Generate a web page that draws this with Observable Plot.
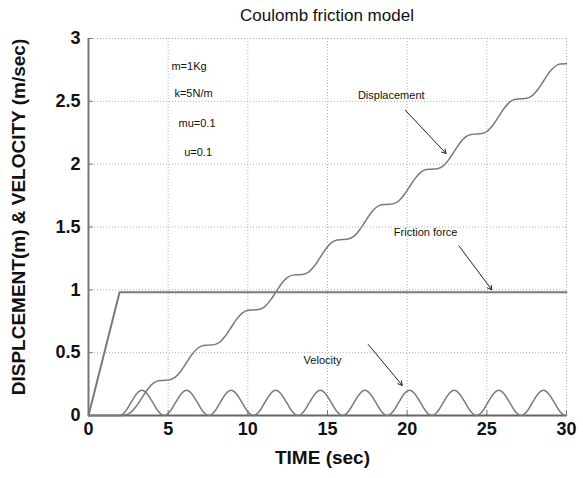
<!DOCTYPE html>
<html>
<head>
<meta charset="utf-8">
<script src="https://cdn.jsdelivr.net/npm/d3@7"></script>
<script src="https://cdn.jsdelivr.net/npm/@observablehq/plot@0.6"></script>
<style>
  body { margin: 0; background: #fff; overflow: hidden; font-family: "Liberation Sans", Arial, sans-serif; }
  #title { width: 583px; height: 30px; line-height: 32px; box-sizing: border-box; padding-left: 71px; text-align: center; font-size: 17px; color: #111; }
</style>
</head>
<body>
<div id="title">Coulomb friction model</div>
<div id="chart"></div>
<script>
// ---- data ----
const xTicks = [0, 5, 10, 15, 20, 25, 30];
const yTicks = [0, 0.5, 1, 1.5, 2, 2.5, 3];

const time = [0,
  1.95, 2.30, 2.65, 3.00, 3.35, 3.70, 4.05, 4.40,
  4.75, 5.10, 5.45, 5.80, 6.15, 6.50, 6.85, 7.20,
  7.55, 7.90, 8.25, 8.60, 8.95, 9.30, 9.65, 10.00,
  10.35, 10.70, 11.05, 11.40, 11.75, 12.10, 12.45, 12.80,
  13.15, 13.50, 13.85, 14.20, 14.55, 14.90, 15.25, 15.60,
  15.95, 16.30, 16.65, 17.00, 17.35, 17.70, 18.05, 18.40,
  18.75, 19.10, 19.45, 19.80, 20.15, 20.50, 20.85, 21.20,
  21.55, 21.90, 22.25, 22.60, 22.95, 23.30, 23.65, 24.00,
  24.35, 24.70, 25.05, 25.40, 25.75, 26.10, 26.45, 26.80,
  27.15, 27.50, 27.85, 28.20, 28.55, 28.90, 29.25, 29.60,
  29.95, 30];

const velocity = [0,
  0, 0.03, 0.10, 0.17, 0.20, 0.17, 0.10, 0.03,
  0, 0.03, 0.10, 0.17, 0.20, 0.17, 0.10, 0.03,
  0, 0.03, 0.10, 0.17, 0.20, 0.17, 0.10, 0.03,
  0, 0.03, 0.10, 0.17, 0.20, 0.17, 0.10, 0.03,
  0, 0.03, 0.10, 0.17, 0.20, 0.17, 0.10, 0.03,
  0, 0.03, 0.10, 0.17, 0.20, 0.17, 0.10, 0.03,
  0, 0.03, 0.10, 0.17, 0.20, 0.17, 0.10, 0.03,
  0, 0.03, 0.10, 0.17, 0.20, 0.17, 0.10, 0.03,
  0, 0.03, 0.10, 0.17, 0.20, 0.17, 0.10, 0.03,
  0, 0.03, 0.10, 0.17, 0.20, 0.17, 0.10, 0.03,
  0, 0];

const displacement = [0,
  0, 0.004, 0.025, 0.074, 0.14, 0.207, 0.255, 0.277,
  0.28, 0.284, 0.305, 0.354, 0.42, 0.487, 0.535, 0.557,
  0.56, 0.564, 0.585, 0.634, 0.70, 0.767, 0.815, 0.837,
  0.84, 0.844, 0.865, 0.914, 0.98, 1.047, 1.095, 1.117,
  1.12, 1.124, 1.145, 1.194, 1.26, 1.327, 1.375, 1.397,
  1.40, 1.404, 1.425, 1.474, 1.54, 1.607, 1.655, 1.677,
  1.68, 1.684, 1.705, 1.754, 1.82, 1.887, 1.935, 1.957,
  1.96, 1.964, 1.985, 2.034, 2.10, 2.167, 2.215, 2.237,
  2.24, 2.244, 2.265, 2.314, 2.38, 2.447, 2.495, 2.517,
  2.52, 2.524, 2.545, 2.594, 2.66, 2.727, 2.775, 2.797,
  2.80, 2.80];

const forceTime = [0, 1.95, 30];
const frictionForce = [0, 0.98, 0.98];

const noteText = ["m=1Kg", "k=5N/m", "mu=0.1", "u=0.1", "Displacement", "Friction force", "Velocity"];
const noteT    = [6.31, 6.59, 6.81, 6.88, 19.0, 21.16, 14.69];
const noteV    = [2.78, 2.56, 2.32, 2.09, 2.55, 1.46, 0.44];

const arrowT1 = [19.88, 23.25, 17.56];
const arrowV1 = [2.43, 1.35, 0.565];
const arrowT2 = [22.44, 25.31, 19.69];
const arrowV2 = [2.085, 1.0, 0.24];

// ---- build tables ----
const dispData = time.map((t, i) => ({t, v: displacement[i]}));
const velData = time.map((t, i) => ({t, v: velocity[i]}));
const forceData = forceTime.map((t, i) => ({t, v: frictionForce[i]}));
const notes = noteText.map((s, i) => ({s, t: noteT[i], v: noteV[i]}));
const arrows = arrowT1.map((t, i) => ({t1: t, v1: arrowV1[i], t2: arrowT2[i], v2: arrowV2[i]}));

const lineColor = "#7a7a7a";
const font = "Liberation Sans, Arial, sans-serif";

const chart = Plot.plot({
  width: 583,
  height: 448,
  marginTop: 8,
  marginBottom: 63,
  marginLeft: 88,
  marginRight: 17,
  style: {fontFamily: font, background: "#fff", overflow: "visible", color: "#111"},
  x: {domain: [0, 30], label: null},
  y: {domain: [0, 3], label: null},
  marks: [
    Plot.gridX(xTicks, {stroke: "#b0b0b0", strokeOpacity: 1, strokeDasharray: "1,2"}),
    Plot.gridY(yTicks, {stroke: "#b0b0b0", strokeOpacity: 1, strokeDasharray: "1,2"}),
    Plot.ruleY(yTicks, {y: d => d, x1: 0, x2: 0.3, stroke: "#777"}),
    Plot.ruleX(xTicks, {x: d => d, y1: 0, y2: 0.04, stroke: "#777"}),
    Plot.ruleX([0], {stroke: "#777", strokeWidth: 2}),
    Plot.ruleY([0], {stroke: "#666", strokeWidth: 2}),
    Plot.line(forceData, {x: "t", y: "v", stroke: lineColor, strokeWidth: 2}),
    Plot.line(velData, {x: "t", y: "v", stroke: lineColor, strokeWidth: 1.5, curve: "monotone-x"}),
    Plot.line(dispData, {x: "t", y: "v", stroke: lineColor, strokeWidth: 1.5, curve: "monotone-x"}),
    Plot.axisX(xTicks, {tickSize: 0, tickPadding: 7, fontSize: 18, fontWeight: "bold", tickFormat: d => String(d), label: null}),
    Plot.axisY(yTicks, {tickSize: 0, tickPadding: 8, fontSize: 18, fontWeight: "bold", tickFormat: d => String(d), label: null}),
    Plot.text(notes, {x: "t", y: "v", text: "s", fontSize: 11, fill: "#111"}),
    Plot.arrow(arrows, {x1: "t1", y1: "v1", x2: "t2", y2: "v2", stroke: "#222", strokeWidth: 1, headLength: 7}),
    Plot.text(["DISPLCEMENT(m) & VELOCITY (m/sec)"], {frameAnchor: "left", textAnchor: "middle", dx: -70, dy: -10, rotate: -90, fontSize: 19, fontWeight: "bold", fill: "#111"}),
    Plot.text(["TIME (sec)"], {frameAnchor: "bottom", textAnchor: "middle", dx: -5, dy: 48, fontSize: 19, fontWeight: "bold", fill: "#111"})
  ]
});
document.getElementById("chart").append(chart);
</script>
</body>
</html>
